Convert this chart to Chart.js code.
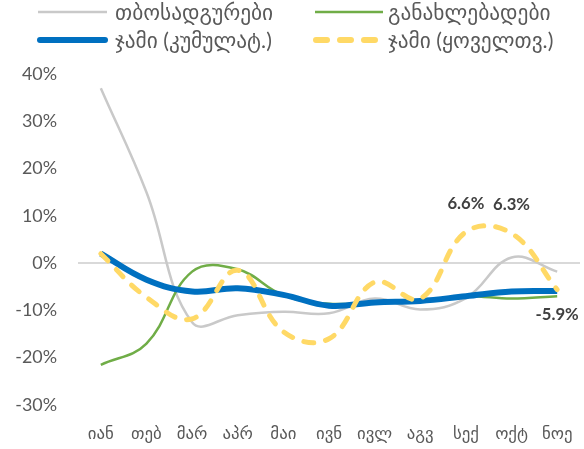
<!DOCTYPE html>
<html>
<head>
<meta charset="utf-8">
<script src="https://cdn.jsdelivr.net/npm/chart.js@4/dist/chart.umd.min.js"></script>
<style>
  body { margin: 0; background: #fff; }
  #wrap { position: relative; width: 584px; height: 449px; }
  #myChart { position: absolute; left: 0; top: 0; }
  .legtext { position: absolute; font-family: Lato, "DejaVu Sans", sans-serif; color: #595959; white-space: nowrap; height: 24px; line-height: 24px; }
  .legline { position: absolute; }
</style>
</head>
<body>
<div id="wrap">
  <canvas id="myChart" width="584" height="449"></canvas>
  <div id="legend"></div>
</div>
<script>
// categories and series (percent)
const months = ['იან', 'თებ', 'მარ', 'აპრ', 'მაი', 'ივნ', 'ივლ', 'აგვ', 'სექ', 'ოქტ', 'ნოე'];
const thermal = [37, 15, -12.5, -11, -10.3, -10.6, -7.5, -9.8, -7.4, 1.2, -1.8];
const renewable = [-21.5, -17, -1.8, -1.3, -6.8, -8.6, -8.2, -8, -7, -7.5, -7];
const totalCum = [2, -3.5, -6, -5.3, -6.7, -9, -8.3, -8, -7, -6, -5.9];
const totalMonth = [2, -7.2, -11.8, -1.5, -14.5, -16, -4, -7.5, 6.6, 6.3, -5.6];
const yTicks = [-30, -20, -10, 0, 10, 20, 30, 40];

const names = ['თბოსადგურები', 'განახლებადები', 'ჯამი (კუმულატ.)', 'ჯამი (ყოველთვ.)'];

// which points get a value label: [dataset index, point index, offset]
const shownLabels = [[3, 8, -28], [3, 9, -29], [2, 10, 24]];

const font = 'Lato, "DejaVu Sans", sans-serif';

// font size that makes a text about as wide as in the original picture
const measureCtx = document.createElement('canvas').getContext('2d');
function fitSize(text, width, weight) {
  measureCtx.font = (weight || '') + ' 100px ' + font;
  return 100 * width / measureCtx.measureText(text).width;
}
const avg = a => a.reduce((s, v) => s + v, 0) / a.length;

const legendSize = avg([fitSize(names[0], 153), fitSize(names[1], 155), fitSize(names[2], 168), fitSize(names[3], 167)]);
const xSize = avg([fitSize('იან', 28), fitSize('თებ', 31), fitSize('ნოე', 28)]);
const ySize = avg([fitSize('40%', 35), fitSize('-30%', 42)]);
const valueSize = fitSize('6.6%', 37, 'bold');

const data = {
  labels: months,
  datasets: [{
    label: names[0],
    data: thermal,
    borderColor: '#c9c9c9',
    borderWidth: 2.5,
    order: 4
  }, {
    label: names[1],
    data: renewable,
    borderColor: '#70ad47',
    borderWidth: 2.5,
    order: 3
  }, {
    label: names[2],
    data: totalCum,
    borderColor: '#0070c0',
    borderWidth: 6,
    order: 2
  }, {
    label: names[3],
    data: totalMonth,
    borderColor: '#ffd966',
    borderWidth: 5,
    borderDash: [10, 12],
    borderCapStyle: 'round',
    order: 1
  }]
};

const valueLabels = {
  id: 'valueLabels',
  afterDatasetsDraw(chart) {
    const ctx = chart.ctx;
    ctx.save();
    ctx.font = 'bold ' + valueSize + 'px ' + font;
    ctx.fillStyle = '#404040';
    ctx.textAlign = 'center';
    ctx.textBaseline = 'middle';
    shownLabels.forEach(([d, i, off]) => {
      const pt = chart.getDatasetMeta(d).data[i];
      const v = chart.data.datasets[d].data[i];
      ctx.fillText(v.toFixed(1) + '%', pt.x, pt.y + off);
    });
    ctx.restore();
  }
};

const config = {
  type: 'line',
  data,
  plugins: [valueLabels],
  options: {
    responsive: false,
    animation: false,
    layout: { padding: { top: 74, right: 4, bottom: 0, left: 0 } },
    elements: {
      point: { radius: 0 },
      line: { tension: 0.4, fill: false, borderJoinStyle: 'round' }
    },
    plugins: {
      legend: { display: false },
      tooltip: { enabled: false }
    },
    scales: {
      x: {
        offset: true,
        afterFit(scale) { scale.height = 44; },
        grid: { display: false },
        border: { display: false },
        ticks: {
          color: '#595959',
          padding: 10,
          maxRotation: 0,
          autoSkip: false,
          font: { size: xSize, family: font }
        }
      },
      y: {
        min: -30,
        max: 40,
        afterBuildTicks(scale) { scale.ticks = yTicks.map(v => ({ value: v })); },
        afterFit(scale) { scale.width = 78; },
        border: { display: false },
        grid: {
          drawTicks: false,
          lineWidth: 2,
          color: c => c.tick && c.tick.value === 0 ? '#d9d9d9' : 'rgba(0,0,0,0)'
        },
        ticks: {
          color: '#595959',
          padding: 21,
          font: { size: ySize, family: font },
          callback: v => v + '%'
        }
      }
    }
  }
};

// legend (two columns, two rows): line from x1 to x2 at y, text at tx
const legendItems = [
  { x1: 38, x2: 107, y: 12, tx: 115, color: '#c9c9c9', width: 2.5, dash: null, cap: 'butt' },
  { x1: 315, x2: 383, y: 12, tx: 388, color: '#70ad47', width: 2.5, dash: null, cap: 'butt' },
  { x1: 40, x2: 105, y: 40, tx: 115, color: '#0070c0', width: 6, dash: null, cap: 'round' },
  { x1: 316, x2: 376, y: 40, tx: 388, color: '#ffd966', width: 6, dash: '11 13', cap: 'round' }
];
const legendEl = document.getElementById('legend');
legendItems.forEach((it, i) => {
  const svg = document.createElementNS('http://www.w3.org/2000/svg', 'svg');
  svg.setAttribute('class', 'legline');
  svg.setAttribute('width', 584);
  svg.setAttribute('height', 20);
  svg.style.left = '0px';
  svg.style.top = (it.y - 10) + 'px';
  const ln = document.createElementNS('http://www.w3.org/2000/svg', 'line');
  ln.setAttribute('x1', it.x1);
  ln.setAttribute('x2', it.x2);
  ln.setAttribute('y1', 10);
  ln.setAttribute('y2', 10);
  ln.setAttribute('stroke', it.color);
  ln.setAttribute('stroke-width', it.width);
  ln.setAttribute('stroke-linecap', it.cap);
  if (it.dash) ln.setAttribute('stroke-dasharray', it.dash);
  svg.appendChild(ln);
  legendEl.appendChild(svg);
  const span = document.createElement('span');
  span.className = 'legtext';
  span.style.left = it.tx + 'px';
  span.style.top = (it.y - 12) + 'px';
  span.style.fontSize = legendSize + 'px';
  span.textContent = names[i];
  legendEl.appendChild(span);
});

const myChart = new Chart(document.getElementById('myChart'), config);
</script>
</body>
</html>
